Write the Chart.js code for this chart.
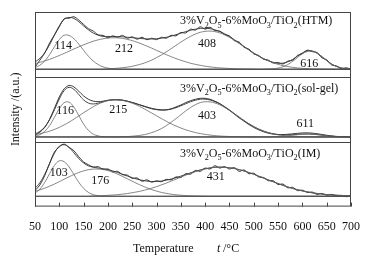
<!DOCTYPE html>
<html>
<head>
<meta charset="utf-8">
<script src="https://cdn.jsdelivr.net/npm/chart.js@4.4.1/dist/chart.umd.min.js"></script>
<style>
  html, body { margin: 0; padding: 0; background: #fff; }
</style>
</head>
<body>
<canvas id="tpr" width="368" height="260"></canvas>
<script>
// temperature axis (°C)
const temps = [50,60,70,80,90,100,110,120,130,140,150,160,170,180,190,200,210,220,230,240,250,260,270,280,290,300,310,320,330,340,350,360,370,380,390,400,410,420,430,440,450,460,470,480,490,500,510,520,530,540,550,560,570,580,590,600,610,620,630,640,650,660,670,680,690,700];

// HTM sample
const htmExp = [2.0,9.5,17.0,27.5,36.0,44.5,53.0,53.5,55.0,51.5,47.0,42.5,40.0,36.0,35.5,33.0,35.0,33.5,35.5,32.5,34.0,31.5,33.5,31.0,32.5,31.0,33.5,32.5,35.5,35.0,38.5,38.0,42.0,41.0,44.5,42.0,44.0,40.5,40.0,36.5,35.0,30.0,28.5,23.0,21.0,16.0,14.5,10.5,9.5,6.5,7.0,5.5,8.5,9.5,14.5,16.5,20.0,18.5,17.5,12.0,10.0,4.5,3.5,0.5,1.5,0.0];
const htmFit = [7.5,11.4,17.3,25.7,35.8,45.5,52.2,54.3,53.2,49.8,45.4,41.2,37.9,35.7,34.4,34.4,34.2,34.2,34.0,33.5,33.1,32.6,32.1,31.8,31.7,32.0,32.5,33.5,34.7,36.2,37.8,39.4,40.8,42.0,42.8,42.9,42.5,41.3,39.5,37.1,34.2,31.0,27.4,23.9,20.4,17.0,13.8,11.1,9.0,7.3,6.3,6.4,7.7,10.3,13.7,17.1,19.2,19.2,17.0,13.3,9.1,5.5,3.0,1.4,0.6,0.2];
const htmP114 = [1.7,4.2,8.6,15.3,23.5,31.1,35.6,35.4,32.0,26.4,19.8,13.6,8.5,4.9,2.5,1.2,0.5,0.2,0.1,0,0,0,0,0,0,0,0,0,0,0,0,0,0,0,0,0,0,0,0,0,0,0,0,0,0,0,0,0,0,0,0,0,0,0,0,0,0,0,0,0,0,0,0,0,0,0];
const htmP212 = [5.8,7.2,8.7,10.4,12.3,14.4,16.6,18.9,21.2,23.4,25.6,27.6,29.4,30.8,31.9,32.7,33.0,32.9,32.3,31.3,30.0,28.3,26.4,24.3,22.1,19.8,17.5,15.3,13.2,11.2,9.4,7.8,6.3,5.1,4.1,3.2,2.5,1.9,1.4,1.1,0.8,0.6,0.4,0.3,0.2,0.1,0,0,0,0,0,0,0,0,0,0,0,0,0,0,0,0,0,0,0,0];
const htmP408 = [0,0,0,0,0,0,0,0,0,0,0,0,0,0,0,0.5,0.7,1.1,1.6,2.2,3.1,4.3,5.7,7.5,9.6,12.2,15.0,18.2,21.5,25.0,28.4,31.6,34.5,36.9,38.7,39.7,40.0,39.4,38.1,36.0,33.4,30.4,27.0,23.6,20.2,16.9,13.8,11.1,8.8,6.8,5.1,3.8,2.8,2.0,1.4,0.9,0.6,0.4,0.2,0.1,0,0,0,0,0,0];
const htmP616 = [0,0,0,0,0,0,0,0,0,0,0,0,0,0,0,0,0,0,0,0,0,0,0,0,0,0,0,0,0,0,0,0,0,0,0,0,0,0,0,0,0,0,0,0,0,0,0,0,0.2,0.5,1.2,2.6,4.9,8.3,12.3,16.2,18.6,18.8,16.8,13.2,9.1,5.5,3.0,1.4,0.6,0.2];

// sol-gel sample
const solExp = [2.0,5.0,10.0,18.5,30.0,42.0,50.5,54.0,52.5,48.0,43.0,39.5,37.5,37.0,37.5,38.5,39.0,39.0,38.5,37.5,36.0,34.5,33.0,31.5,30.0,29.0,28.5,28.5,29.5,31.5,33.5,36.0,38.0,39.5,40.5,40.5,39.5,37.5,35.0,31.5,28.0,24.0,20.0,16.5,13.0,10.0,7.5,5.5,4.0,3.0,2.5,2.5,2.8,3.3,3.8,4.2,4.3,4.0,3.4,2.6,1.8,1.1,0.6,0.3,0.1,0.0];
const solFit = [3.2,5.8,10.5,18.1,28.5,39.7,48.6,52.0,49.9,44.5,38.9,35.5,34.6,35.5,36.9,38.2,38.9,38.9,38.6,37.5,36.2,34.6,32.8,31.0,29.6,28.6,28.1,28.3,29.2,30.7,32.7,34.8,36.9,38.5,39.6,39.6,38.8,37.0,34.7,31.7,28.3,24.5,20.8,17.2,13.8,10.9,8.3,6.2,4.5,3.4,2.6,2.2,2.2,2.4,2.7,3.0,3.1,2.9,2.5,1.9,1.3,0.8,0.4,0.2,0.1,0.0];
const solP116 = [0.8,2.4,5.9,12.0,20.6,29.6,35.9,36.5,31.2,22.5,13.5,6.9,2.9,1.1,0.3,0.1,0,0,0,0,0,0,0,0,0,0,0,0,0,0,0,0,0,0,0,0,0,0,0,0,0,0,0,0,0,0,0,0,0,0,0,0,0,0,0,0,0,0,0,0,0,0,0,0,0,0];
const solP215 = [2.4,3.4,4.6,6.1,7.9,10.1,12.7,15.5,18.7,22.0,25.4,28.6,31.7,34.4,36.6,38.1,38.9,38.9,38.3,37.1,35.4,33.3,30.8,28.0,25.1,22.2,19.3,16.5,13.8,11.5,9.4,7.5,6.0,4.6,3.6,2.7,2.0,1.4,1.0,0.7,0.5,0.3,0.2,0.1,0,0,0,0,0,0,0,0,0,0,0,0,0,0,0,0,0,0,0,0,0,0];
const solP403 = [0,0,0,0,0,0,0,0,0,0,0,0,0,0,0,0,0,0,0.3,0.4,0.8,1.3,2.0,3.0,4.5,6.4,8.8,11.8,15.4,19.2,23.3,27.3,30.9,33.9,36.0,36.9,36.8,35.6,33.7,31.0,27.8,24.2,20.6,17.1,13.8,10.9,8.3,6.2,4.5,3.2,2.2,1.5,1.0,0.6,0.4,0.2,0.1,0,0,0,0,0,0,0,0,0];
const solP611 = [0,0,0,0,0,0,0,0,0,0,0,0,0,0,0,0,0,0,0,0,0,0,0,0,0,0,0,0,0,0,0,0,0,0,0,0,0,0,0,0,0,0,0,0,0,0,0,0,0,0.2,0.4,0.7,1.2,1.8,2.3,2.8,3.0,2.9,2.5,1.9,1.3,0.8,0.4,0.2,0.1,0];

// IM sample
const imExp = [6.0,12.0,22.0,35.0,47.0,52.5,55.5,52.0,48.5,42.0,36.5,33.5,31.0,31.5,28.5,29.0,26.0,26.5,23.0,22.5,19.0,19.5,16.0,17.5,15.0,16.5,15.5,18.0,17.5,20.5,20.0,24.0,23.5,27.5,26.5,30.0,29.0,32.5,30.0,31.5,29.0,30.5,26.5,28.0,24.0,24.5,20.5,20.0,16.5,16.5,12.5,13.0,9.0,9.5,6.0,6.5,4.0,4.5,2.0,3.0,1.0,2.0,0.5,1.0,-0.5,0.5];
const imFit = [8.5,14.4,23.4,34.7,45.8,53.2,54.8,51.9,46.2,40.1,35.4,32.3,31.0,30.0,29.3,28.4,26.9,25.2,23.4,21.5,19.8,18.2,17.0,16.1,15.7,15.7,16.2,17.1,18.3,19.8,21.4,23.1,24.9,26.5,28.0,29.2,30.1,30.8,31.0,30.8,30.3,29.5,28.3,26.9,25.2,23.4,21.4,19.4,17.4,15.4,13.5,11.6,9.9,8.3,7.0,5.7,4.7,3.7,3.0,2.4,1.8,1.4,1.1,0.8,0.6,0.4];
const imP103 = [3.3,7.6,14.8,24.0,32.8,37.7,36.7,31.2,23.1,14.9,8.4,4.1,1.7,0.6,0.2,0.1,0,0,0,0,0,0,0,0,0,0,0,0,0,0,0,0,0,0,0,0,0,0,0,0,0,0,0,0,0,0,0,0,0,0,0,0,0,0,0,0,0,0,0,0,0,0,0,0,0,0];
const imP176 = [5.2,6.8,8.6,10.7,13.0,15.5,18.1,20.7,23.1,25.2,27.0,28.2,28.9,28.9,28.4,27.3,25.6,23.5,21.1,18.6,16.0,13.5,11.2,9.0,7.1,5.5,4.1,3.1,2.2,1.6,1.1,0.7,0.5,0.3,0.2,0.1,0,0,0,0,0,0,0,0,0,0,0,0,0,0,0,0,0,0,0,0,0,0,0,0,0,0,0,0,0,0];
const imP431 = [0,0,0,0,0,0,0,0,0,0,0,0,0.4,0.5,0.7,1.0,1.3,1.7,2.3,2.9,3.8,4.7,5.8,7.1,8.6,10.2,12.1,14.0,16.1,18.2,20.3,22.4,24.4,26.2,27.8,29.1,30.1,30.8,31.0,30.8,30.3,29.5,28.3,26.9,25.2,23.4,21.4,19.4,17.4,15.4,13.5,11.6,9.9,8.3,7.0,5.7,4.7,3.7,3.0,2.4,1.8,1.4,1.1,0.8,0.6,0.4];

// text
const sampleNames = ['3%V_2O_5-6%MoO_3/TiO_2(HTM)', '3%V_2O_5-6%MoO_3/TiO_2(sol-gel)', '3%V_2O_5-6%MoO_3/TiO_2(IM)'];
const htmPeaks = ['114', '212', '408', '616'];
const solPeaks = ['116', '215', '403', '611'];
const imPeaks = ['103', '176', '431'];
const xTitle = 'Temperature';
const yTitle = 'Intensity /(a.u.)';

const SERIF = '"Liberation Serif", "DejaVu Serif", serif';

// top to bottom
const panels = [
  { id: 'yHTM', name: sampleNames[0], exp: htmExp, fit: htmFit, parts: [htmP114, htmP212, htmP408, htmP616], peaks: htmPeaks,
    range: [-8, 60], titleDy: 12, spots: [[108, 25], [233, 21], [404, 27], [614, 6]] },
  { id: 'ySol', name: sampleNames[1], exp: solExp, fit: solFit, parts: [solP116, solP215, solP403, solP611], peaks: solPeaks,
    range: [-5, 63], titleDy: 15, spots: [[112, 27], [221, 28], [404, 22], [606, 14]] },
  { id: 'yIM', name: sampleNames[2], exp: imExp, fit: imFit, parts: [imP103, imP176, imP431], peaks: imPeaks,
    range: [-11, 58], titleDy: 15, spots: [[99, 25], [184, 16], [422, 21]] },
];

function curve(values, axis, color, width, tension) {
  return {
    data: temps.map((t, i) => ({ x: t, y: values[i] })),
    yAxisID: axis, borderColor: color, borderWidth: width,
    pointRadius: 0, tension: tension, fill: false,
  };
}

const datasets = [];
const scales = {
  x: {
    type: 'linear', min: temps[0], max: temps[temps.length - 1],
    grid: { display: false }, border: { display: false },
    ticks: { stepSize: 50, autoSkip: false, maxRotation: 0, padding: 5, color: '#111', font: { family: SERIF, size: 12 } },
  },
};
// stacked scales are laid out bottom-up, so add them in reverse
panels.slice().reverse().forEach(p => {
  scales[p.id] = { type: 'linear', display: false, stack: 'tpr', stackWeight: 1, min: p.range[0], max: p.range[1] };
});
panels.forEach(p => {
  datasets.push({ data: [{ x: temps[0], y: 0 }, { x: temps[temps.length - 1], y: 0 }], yAxisID: p.id,
    borderColor: '#444', borderWidth: 1, pointRadius: 0 });
  p.parts.forEach(v => datasets.push(curve(v, p.id, '#666', 0.8, 0.4)));
  datasets.push(curve(p.fit, p.id, '#333', 0.9, 0.4));
  datasets.push(curve(p.exp, p.id, '#222', 0.9, 0.3));
});

function richText(ctx, str, x, y, size) {
  let cx = x;
  for (let i = 0; i < str.length; i++) {
    const sub = str[i] === '_';
    const ch = sub ? str[++i] : str[i];
    ctx.font = (sub ? size * 0.68 : size) + 'px ' + SERIF;
    ctx.fillText(ch, cx, sub ? y + size * 0.3 : y);
    cx += ctx.measureText(ch).width;
  }
}

const decor = {
  id: 'decor',
  afterDraw(chart) {
    const { ctx, chartArea: a, scales: s } = chart;
    ctx.save();
    ctx.strokeStyle = '#444';
    ctx.lineWidth = 1;
    ctx.strokeRect(a.left + 0.5, a.top + 0.5, a.right - a.left - 1, a.bottom - a.top - 1);
    ctx.beginPath();
    panels.slice(1).forEach(p => {
      const y = Math.round(s[p.id].top) + 0.5;
      ctx.moveTo(a.left, y); ctx.lineTo(a.right, y);
    });
    // inward ticks on the temperature axis
    s.x.ticks.forEach(t => {
      const x = Math.round(s.x.getPixelForValue(t.value)) + 0.5;
      ctx.moveTo(x, a.bottom); ctx.lineTo(x, a.bottom - 4);
    });
    ctx.stroke();

    ctx.fillStyle = '#111';
    panels.forEach(p => {
      const ys = s[p.id];
      ctx.textAlign = 'left';
      ctx.textBaseline = 'alphabetic';
      richText(ctx, p.name, a.left + 145, ys.top + p.titleDy, 12);
      ctx.textAlign = 'center';
      ctx.textBaseline = 'middle';
      ctx.font = '12px ' + SERIF;
      p.peaks.forEach((lab, i) => {
        ctx.fillText(lab, s.x.getPixelForValue(p.spots[i][0]), ys.getPixelForValue(p.spots[i][1]));
      });
    });

    // axis titles
    ctx.textAlign = 'left';
    ctx.textBaseline = 'alphabetic';
    ctx.font = '12px ' + SERIF;
    const tx = a.left + 98, ty = chart.height - 8;
    ctx.fillText(xTitle, tx, ty);
    ctx.font = 'italic 12px ' + SERIF;
    ctx.fillText('t', tx + 84, ty);
    ctx.font = '12px ' + SERIF;
    ctx.fillText(' /\u00B0C', tx + 87, ty);

    ctx.save();
    ctx.translate(19, (a.top + a.bottom) / 2);
    ctx.rotate(-Math.PI / 2);
    ctx.textAlign = 'center';
    ctx.fillText(yTitle, 0, 0);
    ctx.restore();
    ctx.restore();
  }
};

new Chart(document.getElementById('tpr'), {
  type: 'line',
  data: { datasets: datasets },
  options: {
    responsive: false,
    animation: false,
    layout: { padding: { left: 35, right: 17, top: 12, bottom: 21 } },
    plugins: { legend: { display: false }, tooltip: { enabled: false } },
    scales: scales,
  },
  plugins: [decor],
});
</script>
</body>
</html>
